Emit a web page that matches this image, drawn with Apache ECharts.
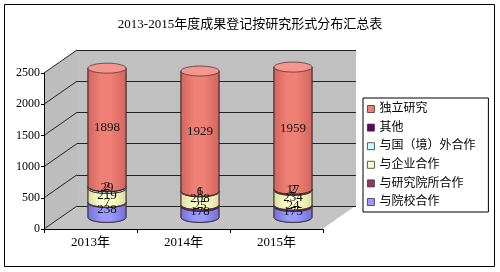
<!DOCTYPE html>
<html><head><meta charset="utf-8">
<script src="https://cdn.jsdelivr.net/npm/echarts@6/dist/echarts.min.js"></script>
<style>html,body{margin:0;padding:0;background:#fff}#c{width:500px;height:272px}</style>
</head><body><div id="c"></div>
<script>
const categories = ['2013年', '2014年', '2015年'];
const yTicks = [0, 500, 1000, 1500, 2000, 2500];
const colleges = [238, 178, 175];        // 与院校合作
const institutes = [7, 25, 24];          // 与研究院所合作
const enterprises = [219, 208, 234];     // 与企业合作
const overseas = [29, 6, 17];            // 与国（境）外合作
const others = [2, 1, 2];                // 其他
const independent = [1898, 1929, 1959];  // 独立研究

const legendOrder = ['独立研究', '其他', '与国（境）外合作', '与企业合作', '与研究院所合作', '与院校合作'];
const stackDefs = [
  { name: '与院校合作', values: colleges, color: '#9999FF', edge: '#7070D8' },
  { name: '与研究院所合作', values: institutes, color: '#993366', edge: '#702448' },
  { name: '与企业合作', values: enterprises, color: '#FFFFCC', edge: '#DCDCA0' },
  { name: '与国（境）外合作', values: overseas, color: '#CCFFFF', edge: '#A0DCDC' },
  { name: '其他', values: others, color: '#660066', edge: '#4A004A' },
  { name: '独立研究', values: independent, color: '#EF8076', edge: '#D2655C' }
];

const FONT = 'SimSun, "Liberation Serif", "Noto Sans CJK SC", serif';
const chart = echarts.init(document.getElementById('c'), null, { renderer: 'canvas' });

const cum = [0, 0, 0];
const series = stackDefs.map((d, si) => {
  const data = d.values.map((v, ci) => {
    const b = cum[ci]; cum[ci] += v;
    return [ci, b, cum[ci], v];
  });
  const isTop = si === stackDefs.length - 1;
  const grad = new echarts.graphic.LinearGradient(0, 0, 1, 0, [
    { offset: 0, color: d.edge }, { offset: 0.35, color: d.color },
    { offset: 0.6, color: d.color }, { offset: 1, color: d.edge }
  ]);
  return {
    type: 'custom', name: d.name, xAxisIndex: 1, yAxisIndex: 1,
    itemStyle: { color: d.color },
    data: data,
    renderItem: function (params, api) {
      const ci = api.value(0), b = api.value(1), t = api.value(2), v = api.value(3);
      const p0 = api.coord([ci, b]), p1 = api.coord([ci, t]);
      const w = api.size([1, 0])[0] * 0.41;
      const rx = w / 2, ry = 5;
      const l = p0[0] - rx, r = p0[0] + rx;
      const path = 'M' + l + ',' + p1[1] + 'L' + l + ',' + p0[1] +
        'A' + rx + ',' + ry + ',0,0,0,' + r + ',' + p0[1] + 'L' + r + ',' + p1[1] + 'Z';
      const children = [{ type: 'path', shape: { pathData: path },
        style: { fill: grad, stroke: '#3a2a2a', lineWidth: 0.7 } }];
      if (isTop) {
        children.push({ type: 'ellipse', shape: { cx: p0[0], cy: p1[1], rx: rx, ry: ry },
          style: { fill: '#F4968D', stroke: '#3a2a2a', lineWidth: 0.7 } });
      }
      children.push({ type: 'text', z2: 100,
        style: { text: String(v), x: p0[0], y: (p0[1] + p1[1]) / 2, align: 'center',
          verticalAlign: 'middle', fontSize: 13, fontFamily: FONT, fill: '#111' } });
      return { type: 'group', children: children };
    }
  };
});

const grids = [
  { left: 44, top: 73, width: 279, height: 156 },
  { left: 60.5, top: 61.5, width: 279, height: 156 },
  { left: 77, top: 50, width: 279, height: 156, show: true, backgroundColor: '#C0C0C0', borderWidth: 0 }
];
const yBase = { type: 'value', min: yTicks[0], max: yTicks[yTicks.length - 1], interval: 500 };

chart.setOption({
  animation: false,
  title: { text: '2013-2015年度成果登记按研究形式分布汇总表', left: 'center', top: 13,
    textStyle: { fontSize: 13, fontWeight: 'normal', color: '#000', fontFamily: FONT } },
  legend: {
    data: legendOrder, orient: 'vertical', left: 363, top: 98, selectedMode: false,
    icon: 'rect', itemWidth: 7, itemHeight: 7, itemGap: 6.6,
    padding: [5, 13, 4, 4], borderColor: '#000', borderWidth: 1, backgroundColor: '#fff',
    itemStyle: { borderColor: '#333', borderWidth: 0.8 },
    textStyle: { fontSize: 12, lineHeight: 12, color: '#000', fontFamily: FONT }
  },
  grid: grids,
  xAxis: [
    { type: 'category', gridIndex: 0, data: categories,
      axisLine: { lineStyle: { color: '#000', width: 1 } },
      axisTick: { show: true, length: 4, lineStyle: { color: '#000' } },
      axisLabel: { fontSize: 13, color: '#000', fontFamily: FONT, margin: 7 } },
    { type: 'category', gridIndex: 1, data: categories, show: false },
    { type: 'category', gridIndex: 2, data: categories, show: false }
  ],
  yAxis: [
    Object.assign({ gridIndex: 0, axisLine: { show: true, lineStyle: { color: '#000' } },
      axisTick: { show: true, length: 3, lineStyle: { color: '#000' } },
      splitLine: { show: false },
      axisLabel: { fontSize: 12, color: '#000', fontFamily: FONT, margin: 4,
        formatter: function (v) { return String(v); } } }, yBase),
    Object.assign({ gridIndex: 1, show: false, splitLine: { show: false } }, yBase),
    Object.assign({ gridIndex: 2, axisLine: { show: false }, axisTick: { show: false },
      axisLabel: { show: false }, splitLine: { show: true, lineStyle: { color: '#222', width: 1 } } }, yBase)
  ],
  series: series
});

// 3D box walls and side-wall grid lines derived from the axes
const fx0 = chart.convertToPixel({ xAxisIndex: 0 }, 0) - 46.5;
const fx1 = fx0 + 279;
const bx0 = fx0 + 33, bx1 = fx1 + 33;
const fy0 = chart.convertToPixel({ yAxisIndex: 0 }, 0), fyT = chart.convertToPixel({ yAxisIndex: 0 }, 2500);
const by0 = chart.convertToPixel({ yAxisIndex: 2 }, 0), byT = chart.convertToPixel({ yAxisIndex: 2 }, 2500);
const g = [
  { type: 'rect', z: -10, shape: { x: 4.5, y: 4.5, width: 490, height: 262 },
    style: { fill: '#fff', stroke: '#000', lineWidth: 1 } },
  { type: 'polygon', z: -5, shape: { points: [[fx0, fyT], [bx0, byT], [bx0, by0], [fx0, fy0]] },
    style: { fill: '#BDBDBD' } },
  { type: 'polygon', z: -5, shape: { points: [[fx0, fy0], [bx0, by0], [bx1, by0], [fx1, fy0]] },
    style: { fill: '#C4C4C4' } },
  { type: 'line', z: -4, shape: { x1: fx1, y1: fy0, x2: bx1, y2: by0 }, style: { stroke: '#fff', lineWidth: 1 } }
];
yTicks.forEach(v => {
  const y1 = chart.convertToPixel({ yAxisIndex: 0 }, v), y2 = chart.convertToPixel({ yAxisIndex: 2 }, v);
  g.push({ type: 'line', z: -3, shape: { x1: fx0, y1: y1, x2: bx0, y2: y2 }, style: { stroke: '#222', lineWidth: 1 } });
});
chart.setOption({ graphic: g });
</script></body></html>
